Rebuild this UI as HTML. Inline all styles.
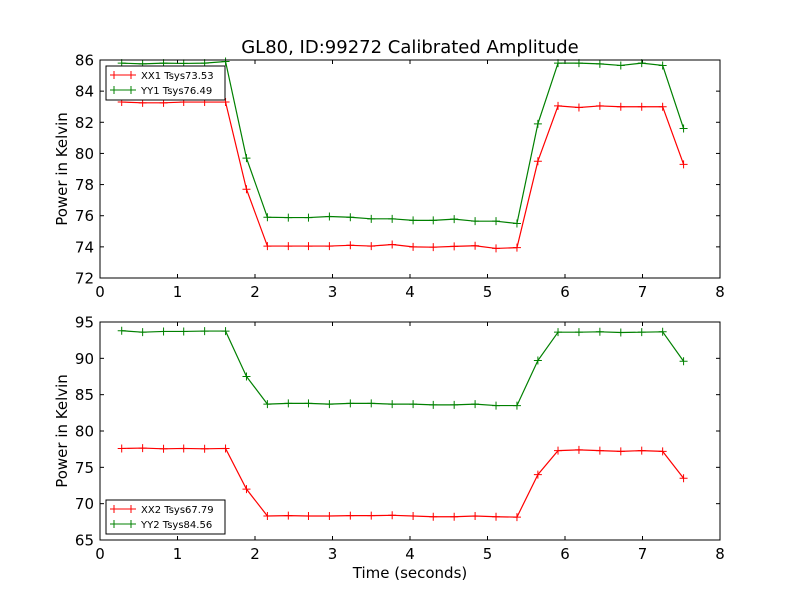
<!DOCTYPE html>
<html><head><meta charset="utf-8"><style>
body{margin:0;background:#fff;}
svg text{font-family:"DejaVu Sans","Liberation Sans",sans-serif;}
</style></head><body>
<svg id="c" width="800" height="600" xmlns="http://www.w3.org/2000/svg"></svg>
<script>
const times=[0.28,0.55,0.82,1.08,1.35,1.62,1.89,2.16,2.43,2.69,2.96,3.23,3.5,3.77,4.04,4.3,4.57,4.84,5.11,5.38,5.65,5.91,6.18,6.45,6.72,6.99,7.26,7.53];
const xx1=[83.3,83.25,83.25,83.3,83.3,83.3,77.7,74.05,74.05,74.05,74.05,74.1,74.05,74.15,74.0,73.98,74.03,74.07,73.9,73.95,79.5,83.05,82.95,83.05,83.0,83.0,83.0,79.3];
const yy1=[85.8,85.75,85.8,85.78,85.8,85.9,79.7,75.9,75.88,75.88,75.95,75.9,75.8,75.8,75.7,75.7,75.78,75.65,75.65,75.5,81.9,85.8,85.8,85.75,85.65,85.8,85.65,81.6];
const xx2=[77.6,77.65,77.55,77.6,77.55,77.6,72.0,68.3,68.35,68.3,68.3,68.35,68.35,68.4,68.3,68.2,68.2,68.3,68.2,68.15,74.0,77.3,77.4,77.3,77.2,77.3,77.2,73.5];
const yy2=[93.8,93.6,93.7,93.7,93.75,93.75,87.5,83.7,83.8,83.8,83.7,83.8,83.8,83.7,83.7,83.6,83.6,83.7,83.5,83.5,89.7,93.6,93.6,93.65,93.55,93.6,93.65,89.6];
const xTicks=[0,1,2,3,4,5,6,7,8];
const topTicks=[72,74,76,78,80,82,84,86];
const botTicks=[65,70,75,80,85,90,95];
const legTop=["XX1 Tsys73.53","YY1 Tsys76.49"];
const legBot=["XX2 Tsys67.79","YY2 Tsys84.56"];

const svg=document.getElementById('c');
const NS="http://www.w3.org/2000/svg";
function mk(t,a,p){const e=document.createElementNS(NS,t);for(const k in a)e.setAttribute(k,a[k]);(p||svg).appendChild(e);return e;}
const X0=100,X1=720;
const xs=v=>X0+(v-0)/(8-0)*(X1-X0);

function panel(top,bot,ymin,ymax,yt,s1,s2,leg,legY,name){
  const g=mk('g',{});
  
  
  const ys=v=>bot-(v-ymin)/(ymax-ymin)*(bot-top);
  xTicks.forEach(t=>{const x=xs(t);
    mk('line',{x1:x,x2:x,y1:bot,y2:bot-4,stroke:'#000'},g);
    mk('line',{x1:x,x2:x,y1:top,y2:top+4,stroke:'#000'},g);
    const tx=mk('text',{x:x,y:bot+19,'text-anchor':'middle','font-size':15},g);tx.textContent=t;
    
    
  });
  yt.forEach(t=>{const y=ys(t);
    mk('line',{x1:X0,x2:X0+4,y1:y,y2:y,stroke:'#000'},g);
    mk('line',{x1:X1,x2:X1-4,y1:y,y2:y,stroke:'#000'},g);
    const tx=mk('text',{x:X0-6,y:y+5.5,'text-anchor':'end','font-size':15},g);tx.textContent=t;
    
    
  });
  [[s1,'#ff0000','series-xx'],[s2,'#008000','series-yy']].forEach(([s,c,n])=>{
    const pl=mk('polyline',{points:s.map((v,i)=>xs(times[i])+','+ys(v)).join(' '),fill:'none',stroke:c,'stroke-width':1.2},g);
    
    
    s.forEach((v,i)=>{const x=xs(times[i]),y=ys(v);
      mk('path',{d:`M${x-4},${y}H${x+4}M${x},${y-4}V${y+4}`,stroke:c,'stroke-width':1},g);});
  });
  mk('rect',{x:X0,y:top,width:X1-X0,height:bot-top,fill:'none',stroke:'#000','stroke-width':1},g);
  const yl=mk('text',{x:0,y:0,'font-size':15,'text-anchor':'middle',transform:`translate(67,${(top+bot)/2}) rotate(-90)`},g);
  yl.textContent='Power in Kelvin';
  
  
  const lg=mk('g',{},g);
  
  
  mk('rect',{x:106,y:legY,width:119,height:34,fill:'#fff',stroke:'#000'},lg);
  leg.forEach((l,i)=>{const y=legY+9+i*15,c=i?'#008000':'#ff0000';
    mk('path',{d:`M110,${y}H136M114,${y-4}V${y+4}M131,${y-4}V${y+4}`,stroke:c},lg);
    const tx=mk('text',{x:141,y:y+4,'font-size':10},lg);tx.textContent=l;
    
    
  });
}
panel(60,278,72,86,topTicks,xx1,yy1,legTop,66,'top-panel');
panel(322,540,65,95,botTicks,xx2,yy2,legBot,500,'bottom-panel');
const t=mk('text',{x:410,y:53,'text-anchor':'middle','font-size':18});t.textContent='GL80, ID:99272 Calibrated Amplitude';


const xl=mk('text',{x:410,y:578,'text-anchor':'middle','font-size':15});xl.textContent='Time (seconds)';


</script>
</body></html>
